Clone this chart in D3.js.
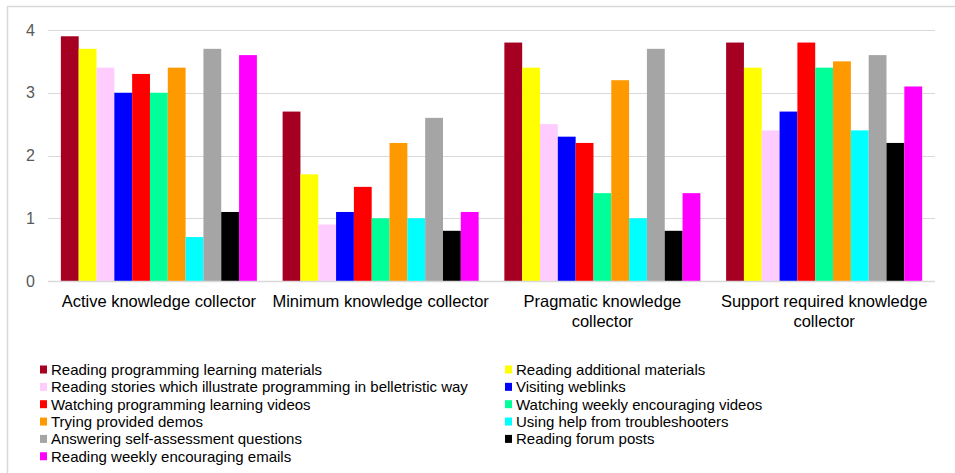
<!DOCTYPE html>
<html>
<head>
<meta charset="utf-8">
<script src="https://cdn.jsdelivr.net/npm/d3@7"></script>
<style>
  body { margin: 0; background: #fff; }
  text { font-family: "Liberation Sans", Arial, sans-serif; }
</style>
</head>
<body>
<script>
var categories = [
  ["Active knowledge collector"],
  ["Minimum knowledge collector"],
  ["Pragmatic knowledge", "collector"],
  ["Support required knowledge", "collector"]
];
var seriesNames = [
  "Reading programming learning materials",
  "Reading additional materials",
  "Reading stories which illustrate programming in belletristic way",
  "Visiting weblinks",
  "Watching programming learning videos",
  "Watching weekly encouraging videos",
  "Trying provided demos",
  "Using help from troubleshooters",
  "Answering self-assessment questions",
  "Reading forum posts",
  "Reading weekly encouraging emails"
];
var colors = ["#A50021","#FFFF00","#FFCCFF","#0000FF","#FF0000","#00FF99","#FF9900","#00FFFF","#A5A5A5","#000000","#FF00FF"];
// one row per category, one value per series
var activeValues    = [3.9, 3.7, 3.4, 3.0, 3.3, 3.0, 3.4, 0.7, 3.7, 1.1, 3.6];
var minimumValues   = [2.7, 1.7, 0.9, 1.1, 1.5, 1.0, 2.2, 1.0, 2.6, 0.8, 1.1];
var pragmaticValues = [3.8, 3.4, 2.5, 2.3, 2.2, 1.4, 3.2, 1.0, 3.7, 0.8, 1.4];
var supportValues   = [3.8, 3.4, 2.4, 2.7, 3.8, 3.4, 3.5, 2.4, 3.6, 2.2, 3.1];
var yTicks = [0, 1, 2, 3, 4];

var values = [activeValues, minimumValues, pragmaticValues, supportValues];

var svg = d3.select("body").append("svg").attr("width", 955).attr("height", 473);

// frame lines
svg.append("line").attr("x1", 7).attr("x2", 955).attr("y1", 6.5).attr("y2", 6.5)
  .attr("stroke", "#d9d9d9").attr("stroke-width", 1.5);
svg.append("line").attr("x1", 7.5).attr("x2", 7.5).attr("y1", 6).attr("y2", 473)
  .attr("stroke", "#d9d9d9").attr("stroke-width", 1.5);

var plotLeft = 48, plotRight = 935, plotTop = 30, plotBottom = 281;

var x0 = d3.scaleBand().domain(d3.range(categories.length)).range([plotLeft, plotRight])
  .paddingInner(0.116).paddingOuter(0.058);
var x1 = d3.scaleBand().domain(d3.range(seriesNames.length)).range([0, x0.bandwidth()]);
var y = d3.scaleLinear().domain([0, 4]).range([plotBottom, plotTop]);

// grid
svg.append("g").selectAll("line").data(yTicks.filter(d => d > 0)).join("line")
  .attr("x1", plotLeft).attr("x2", plotRight)
  .attr("y1", d => Math.round(y(d)) + 0.5).attr("y2", d => Math.round(y(d)) + 0.5)
  .attr("stroke", "#d9d9d9").attr("stroke-width", 1);

// y labels
svg.append("g").selectAll("text").data(yTicks).join("text")
  .attr("x", 35).attr("y", d => y(d) + 5.5)
  .attr("text-anchor", "end").attr("font-size", 16).attr("fill", "#595959")
  .text(d => d);

// bars
var groups = svg.append("g").selectAll("g").data(values).join("g")
  .attr("transform", (d, i) => "translate(" + x0(i) + ",0)");
groups.selectAll("rect").data(d => d).join("rect")
  .attr("x", (d, i) => x1(i))
  .attr("width", x1.bandwidth())
  .attr("y", d => y(d))
  .attr("height", d => y(0) - y(d))
  .attr("fill", (d, i) => colors[i]);

// axis baseline
svg.append("line").attr("x1", plotLeft).attr("x2", plotRight).attr("y1", plotBottom + 0.5).attr("y2", plotBottom + 0.5)
  .attr("stroke", "#d9d9d9").attr("stroke-width", 1.5);

// category labels
var catLabels = svg.append("g").selectAll("text").data(categories).join("text")
  .attr("x", (d, i) => x0(i) + x0.bandwidth() / 2)
  .attr("y", 307)
  .attr("text-anchor", "middle").attr("font-size", 16.5).attr("fill", "#000");
catLabels.selectAll("tspan").data(d => d).join("tspan")
  .attr("x", function() { return d3.select(this.parentNode).attr("x"); })
  .attr("dy", (d, i) => i === 0 ? 0 : 20)
  .text(d => d);

// legend: two columns, row-major
var legend = svg.append("g").selectAll("g").data(seriesNames).join("g")
  .attr("transform", (d, i) => "translate(" + (i % 2 === 0 ? 40 : 505) + "," + (369.5 + Math.floor(i / 2) * 17.35) + ")");
legend.append("rect").attr("x", 0).attr("y", -4).attr("width", 7).attr("height", 8)
  .attr("fill", (d, i) => colors[i]);
legend.append("text").attr("x", 11).attr("y", 5.5).attr("font-size", 15).attr("fill", "#000")
  .text(d => d);
</script>
</body>
</html>
